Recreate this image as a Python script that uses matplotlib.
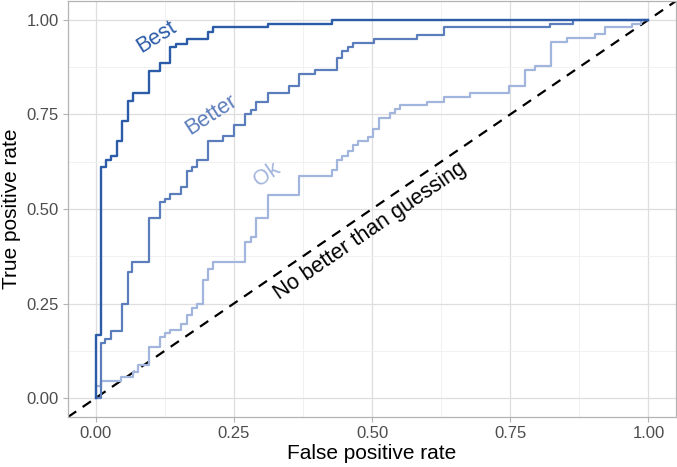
import numpy as np
import matplotlib
matplotlib.use('Agg')
import matplotlib.pyplot as plt

plt.rcParams['font.family'] = ['Liberation Sans', 'DejaVu Sans']

# ROC step points (false positive rate, true positive rate)
best_fpr = [0, 0, 0.009, 0.019, 0.028, 0.038, 0.048, 0.058, 0.067, 0.097, 0.116,
            0.135, 0.146, 0.165, 0.203, 0.213, 0.311, 0.427, 1.0]
best_tpr = [0, 0.167, 0.61, 0.63, 0.641, 0.68, 0.733, 0.786, 0.806, 0.865, 0.887,
            0.929, 0.937, 0.949, 0.968, 0.982, 0.99, 1.0, 1.0]

better_fpr = [0, 0.009, 0.017, 0.028, 0.048, 0.058, 0.066, 0.096, 0.116, 0.126,
              0.135, 0.155, 0.165, 0.174, 0.184, 0.203, 0.231, 0.251, 0.271, 0.281,
              0.29, 0.311, 0.349, 0.368, 0.397, 0.436, 0.445, 0.456, 0.465, 0.504,
              0.581, 0.63, 0.822, 0.863, 1.0]
better_tpr = [0, 0.146, 0.157, 0.177, 0.25, 0.333, 0.361, 0.477, 0.518, 0.527,
              0.54, 0.559, 0.6, 0.61, 0.63, 0.68, 0.694, 0.722, 0.751, 0.762,
              0.784, 0.806, 0.826, 0.857, 0.867, 0.898, 0.918, 0.929, 0.938, 0.949,
              0.96, 0.982, 0.99, 1.0, 1.0]

ok_fpr = [0, 0, 0.009, 0.046, 0.067, 0.076, 0.096, 0.116, 0.126, 0.135, 0.155,
          0.165, 0.174, 0.184, 0.194, 0.203, 0.213, 0.271, 0.281, 0.29, 0.311,
          0.368, 0.427, 0.436, 0.445, 0.456, 0.465, 0.474, 0.493, 0.502, 0.512,
          0.532, 0.542, 0.551, 0.599, 0.63, 0.678, 0.747, 0.776, 0.795, 0.824,
          0.853, 0.903, 0.921, 0.97, 0.987, 1.0]
ok_tpr = [0, 0.032, 0.045, 0.055, 0.07, 0.087, 0.135, 0.162, 0.171, 0.179, 0.197,
          0.219, 0.239, 0.25, 0.313, 0.342, 0.361, 0.413, 0.426, 0.477, 0.537,
          0.588, 0.602, 0.63, 0.639, 0.652, 0.67, 0.681, 0.691, 0.712, 0.741,
          0.753, 0.764, 0.775, 0.784, 0.795, 0.806, 0.826, 0.867, 0.879, 0.941,
          0.952, 0.963, 0.982, 0.99, 1.0, 1.0]

ticks = [0.0, 0.25, 0.5, 0.75, 1.0]
tick_labels = ['0.00', '0.25', '0.50', '0.75', '1.00']

c_best = '#2c5ca8'
c_better = '#5b7dbb'
c_ok = '#a2b5dc'

fig = plt.figure(figsize=(6.77, 4.67), dpi=100)
ax = fig.add_axes([0.1004, 0.107, 0.8982, 0.891])

# diagonal reference
ax.plot([-0.05, 1.05], [-0.05, 1.05], color='black', linestyle=(0, (4.5, 3.5)),
        linewidth=1.6, zorder=2)

ax.step(ok_fpr, ok_tpr, where='post', color=c_ok, linewidth=1.6, zorder=3)
ax.step(better_fpr, better_tpr, where='post', color=c_better, linewidth=1.6, zorder=4)
ax.step(best_fpr, best_tpr, where='post', color=c_best, linewidth=1.7, zorder=5)

# curve labels
ax.text(0.11, 0.955, 'Best', color=c_best, fontsize=15.5, rotation=32,
        ha='center', va='center')
ax.text(0.209, 0.749, 'Better', color=c_better, fontsize=15.5, rotation=33,
        ha='center', va='center')
ax.text(0.31, 0.59, 'Ok', color=c_ok, fontsize=15.5, rotation=35,
        ha='center', va='center')
ax.text(0.497, 0.443, 'No better than guessing', color='black', fontsize=15.5,
        rotation=34.4, ha='center', va='center', rotation_mode='anchor')

ax.set_xlim(-0.05, 1.05)
ax.set_ylim(-0.05, 1.05)
ax.set_xticks(ticks)
ax.set_xticklabels(tick_labels)
ax.set_yticks(ticks)
ax.set_yticklabels(tick_labels)
ax.set_xticks([0.125, 0.375, 0.625, 0.875], minor=True)
ax.set_yticks([0.125, 0.375, 0.625, 0.875], minor=True)

ax.grid(True, which='major', color='#dedede', linewidth=0.9, zorder=0)
ax.grid(True, which='minor', color='#efefef', linewidth=0.6, zorder=0)
ax.set_axisbelow(True)
ax.tick_params(which='minor', length=0)
ax.tick_params(which='major', length=3.5, width=0.8, color='#b3b3b3',
               labelcolor='#4d4d4d', labelsize=12, pad=3)

for s in ax.spines.values():
    s.set_color('#b3b3b3')
    s.set_linewidth(0.9)

ax.set_xlabel('False positive rate', fontsize=15, labelpad=2)
ax.set_ylabel('True positive rate', fontsize=15, labelpad=4)

fig.savefig('out.png', dpi=100)
